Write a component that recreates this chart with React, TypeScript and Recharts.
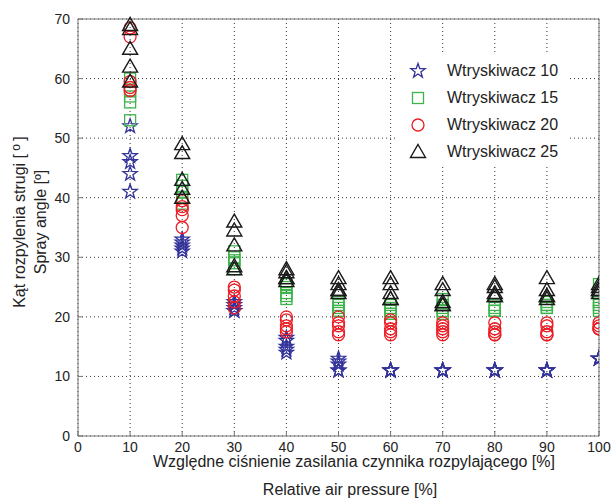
import React from 'react'
import {
	ScatterChart,
	Scatter,
	XAxis,
	YAxis,
	CartesianGrid,
	Legend,
	Label,
} from 'recharts'

// relative air pressure [%]
const pressures = [10, 20, 30, 40, 50, 60, 70, 80, 90, 100]
const xTicks = [0, 10, 20, 30, 40, 50, 60, 70, 80, 90, 100]
const yTicks = [0, 10, 20, 30, 40, 50, 60, 70]

// spray angle readings, five per pressure
const wtr10 = [
	[52, 47, 46, 44, 41],
	[33, 32.5, 32, 31.5, 31],
	[22.5, 22, 21.5, 21, 21],
	[16.5, 16, 15, 14.5, 14],
	[13, 12.5, 12, 11, 11],
	[11, 11, 11, 11, 11],
	[11, 11, 11, 11, 11],
	[11, 11, 11, 11, 11],
	[11, 11, 11, 11, 11],
	[13, 13, 13, 13, 13],
]
const wtr15 = [
	[60, 58, 57, 56, 53],
	[43, 42, 41, 40, 39],
	[31, 30, 29.5, 29, 28],
	[25.5, 25, 24, 23.5, 23],
	[22.5, 22, 21.5, 21, 21],
	[22, 21.5, 21, 20.5, 20.5],
	[23, 22, 21.5, 21, 20.5],
	[22, 21.5, 21, 21, 21],
	[22.5, 22, 22, 21.5, 21.5],
	[25.5, 22.5, 22, 21.5, 21],
]
const wtr20 = [
	[68.5, 67, 59.5, 58.5, 58],
	[39.5, 38.5, 38, 37, 35],
	[25, 24.5, 23.5, 22.5, 21.5],
	[20, 19.5, 18.5, 18, 17.5],
	[20, 19, 18.5, 17.5, 17],
	[19.5, 19, 18, 17.5, 17],
	[19, 18.5, 18, 17.5, 17],
	[19, 18, 17.5, 17, 17],
	[19, 18.5, 17.5, 17, 17],
	[19, 18.5, 18, 18, 18],
]
const wtr25 = [
	[69, 68.3, 65, 62, 59.5],
	[49, 47.5, 43, 41.5, 40],
	[36, 34.5, 32, 28.5, 28],
	[28, 27.5, 26.5, 26.5, 26],
	[26.5, 25.5, 24.5, 24.5, 24],
	[26.5, 25.5, 24, 23, 23],
	[25.5, 24.5, 22.5, 22, 22],
	[25.5, 25, 24, 23.5, 23.5],
	[26.5, 24.5, 23.5, 23.5, 23],
	[25.5, 25, 24.5, 24.5, 24],
]

const toPoints = (vals: number[][]) =>
	pressures.flatMap((x, i) => vals[i].map((y) => ({ x, y })))

const FONT = 'Liberation Sans, Arial, sans-serif'
const BLUE = '#33339a'
const GREEN = '#3cb44b'
const RED = '#ec1c24'
const BLACK = '#1a1a1a'
const AXIS = '#777'

const StarMark = ({ cx, cy }: any) => {
	const pts: string[] = []
	for (let i = 0; i < 10; i++) {
		const r = i % 2 === 0 ? 7.5 : 3
		const a = -Math.PI / 2 + (i * Math.PI) / 5
		pts.push(`${cx + r * Math.cos(a)},${cy + r * Math.sin(a)}`)
	}
	return <polygon points={pts.join(' ')} fill='none' stroke={BLUE} strokeWidth={1.3} />
}
const SquareMark = ({ cx, cy }: any) => (
	<rect x={cx - 5.5} y={cy - 5.5} width={11} height={11} fill='none' stroke={GREEN} strokeWidth={1.3} />
)
const CircleMark = ({ cx, cy }: any) => (
	<circle cx={cx} cy={cy} r={6} fill='none' stroke={RED} strokeWidth={1.3} />
)
const TriMark = ({ cx, cy }: any) => (
	<polygon
		points={`${cx},${cy - 7.5} ${cx + 7.5},${cy + 5.5} ${cx - 7.5},${cy + 5.5}`}
		fill='none'
		stroke={BLACK}
		strokeWidth={1.4}
	/>
)

const series = [
	{ name: 'Wtryskiwacz 10', data: toPoints(wtr10), Mark: StarMark },
	{ name: 'Wtryskiwacz 15', data: toPoints(wtr15), Mark: SquareMark },
	{ name: 'Wtryskiwacz 20', data: toPoints(wtr20), Mark: CircleMark },
	{ name: 'Wtryskiwacz 25', data: toPoints(wtr25), Mark: TriMark },
]

const BottomTick = ({ x, y, payload }: any) => (
	<g>
		<line x1={x} x2={x} y1={y - 6} y2={y - 11} stroke={AXIS} />
		<text x={x} y={y} dy={10} textAnchor='middle' fontSize={14} fill='#222' fontFamily={FONT}>
			{payload.value}
		</text>
	</g>
)
const LeftTick = ({ x, y, payload }: any) => (
	<g>
		<line x1={x + 8} x2={x + 13} y1={y} y2={y} stroke={AXIS} />
		<text x={x} y={y} dy={5} textAnchor='end' fontSize={14} fill='#222' fontFamily={FONT}>
			{payload.value}
		</text>
	</g>
)
const TopTick = ({ x, y }: any) => <line x1={x} x2={x} y1={y} y2={y + 5} stroke={AXIS} />
const RightTick = ({ x, y }: any) => <line x1={x} x2={x - 5} y1={y} y2={y} stroke={AXIS} />

const LegendBox = () => (
	<div style={{ background: '#fff', width: 172, paddingTop: 5, fontFamily: FONT }}>
		{series.map(({ name, Mark }) => (
			<div key={name} style={{ display: 'flex', alignItems: 'center', height: 27 }}>
				<svg width={52} height={20} style={{ flex: 'none' }}>
					<Mark cx={23} cy={10} />
				</svg>
				<span style={{ fontSize: 16, color: '#222' }}>{name}</span>
			</div>
		))}
	</div>
)

const App = () => {
	return (
		<div style={{ position: 'absolute', left: 0, top: 0, background: '#fff' }}>
			<ScatterChart width={614} height={499} margin={{ top: 0, right: 0, bottom: 0, left: 0 }}>
				<CartesianGrid stroke='#333' strokeDasharray='1 3' horizontalValues={yTicks} verticalValues={xTicks} />
				<XAxis
					dataKey='x'
					type='number'
					domain={[0, 100]}
					allowDataOverflow
					ticks={xTicks}
					height={63}
					tickSize={0}
					tickMargin={6}
					axisLine={{ stroke: AXIS }}
					tick={<BottomTick />}>
					<Label
						content={() => (
							<text x={354} y={467} textAnchor='middle' fontSize={16} fill='#222' fontFamily={FONT}>
								Względne ciśnienie zasilania czynnika rozpylającego [%]
							</text>
						)}
					/>
					<Label
						content={() => (
							<text x={350} y={495} textAnchor='middle' fontSize={16} fill='#222' fontFamily={FONT}>
								Relative air pressure [%]
							</text>
						)}
					/>
				</XAxis>
				<XAxis
					xAxisId='top'
					orientation='top'
					type='number'
					domain={[0, 100]}
					ticks={xTicks}
					height={19}
					tickSize={0}
					tickMargin={0}
					axisLine={{ stroke: AXIS }}
					tick={<TopTick />}
				/>
				<YAxis
					dataKey='y'
					type='number'
					domain={[0, 70]}
					ticks={yTicks}
					width={78}
					tickSize={0}
					tickMargin={8}
					axisLine={{ stroke: AXIS }}
					tick={<LeftTick />}>
					<Label
						content={() => (
							<text transform='translate(25,222) rotate(-90)' textAnchor='middle' fontSize={16} fill='#222' fontFamily={FONT}>
								Kąt rozpylenia strugi  [
								<tspan fontSize={12} dy={-5}> o </tspan>
								<tspan dy={5}>]</tspan>
							</text>
						)}
					/>
					<Label
						content={() => (
							<text transform='translate(46,222) rotate(-90)' textAnchor='middle' fontSize={16} fill='#222' fontFamily={FONT}>
								Spray angle [º]
							</text>
						)}
					/>
				</YAxis>
				<YAxis
					yAxisId='right'
					orientation='right'
					type='number'
					domain={[0, 70]}
					ticks={yTicks}
					width={15}
					tickSize={0}
					tickMargin={0}
					axisLine={{ stroke: AXIS }}
					tick={<RightTick />}
				/>
				<Legend
					layout='vertical'
					align='center'
					verticalAlign='middle'
					wrapperStyle={{ left: 395, top: 52, width: 172 }}
					content={<LegendBox />}
				/>
				{series.map(({ name, data, Mark }) => (
					<Scatter
						key={name}
						name={name}
						data={data}
						isAnimationActive={false}
						shape={(p: any) => <Mark cx={p.cx} cy={p.cy} />}
					/>
				))}
			</ScatterChart>
		</div>
	)
}

export default App
